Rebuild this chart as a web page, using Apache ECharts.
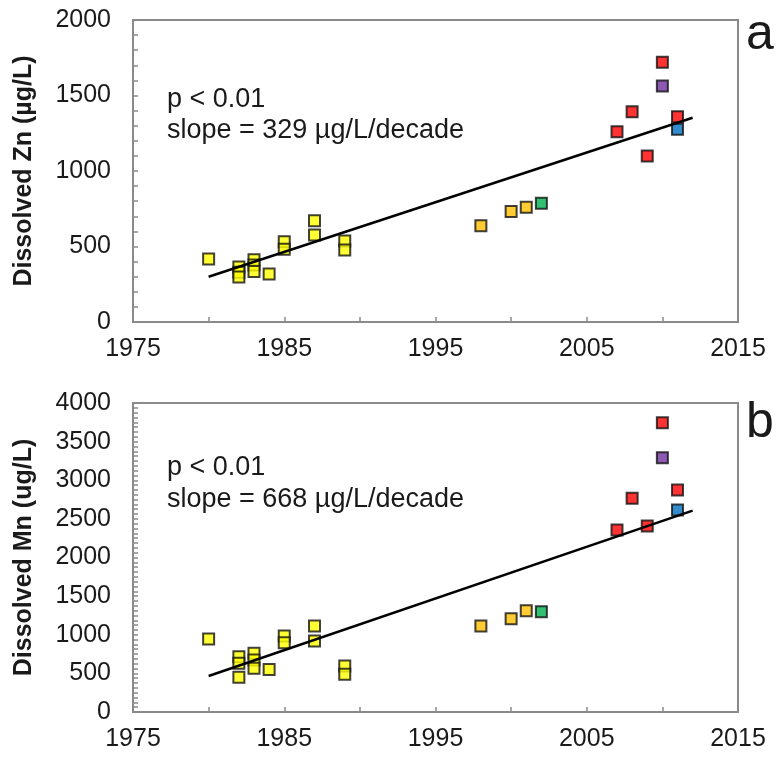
<!DOCTYPE html>
<html>
<head>
<meta charset="utf-8">
<script src="https://cdn.jsdelivr.net/npm/echarts@6/dist/echarts.min.js"></script>
<style>
  html, body { margin: 0; padding: 0; background: #fff; }
  #chart { width: 778px; height: 761px; }
</style>
</head>
<body>
<div id="chart"></div>
<script>
// panel a - dissolved Zn (ug/L), points as [year, value]
const znEarly = [[1980, 417], [1982, 365], [1982, 330], [1982, 298], [1983, 412], [1983, 377], [1983, 335],
  [1984, 318], [1985, 532], [1985, 481], [1987, 671], [1987, 576], [1989, 536], [1989, 477]];
const znMid = [[1998, 638], [2000, 731], [2001, 760]];
const znGreen = [[2002, 786]];
const znRed = [[2007, 1260], [2008, 1392], [2009, 1099], [2010, 1720], [2011, 1360]];
const znPurple = [[2010, 1563]];
const znBlue = [[2011, 1276]];
const znTrend = [[1980, 300], [2012, 1353]];

// panel b - dissolved Mn
const mnEarly = [[1980, 945], [1982, 716], [1982, 630], [1982, 449], [1983, 760], [1983, 673], [1983, 566],
  [1984, 550], [1985, 984], [1985, 897], [1987, 1113], [1987, 919], [1989, 595], [1989, 488]];
const mnMid = [[1998, 1113], [2000, 1208], [2001, 1311]];
const mnGreen = [[2002, 1299]];
const mnRed = [[2007, 2356], [2008, 2766], [2009, 2408], [2010, 3745], [2011, 2874]];
const mnPurple = [[2010, 3292]];
const mnBlue = [[2011, 2615]];
const mnTrend = [[1980, 466], [2012, 2606]];

const colors = { early: '#FFFF00', mid: '#FFC000', green: '#00B050', red: '#FF0000', purple: '#7030A0', blue: '#0070C0' };
const font = 'Liberation Sans, Arial';

const chart = echarts.init(document.getElementById('chart'));

function pts(data, color, idx) {
  return {
    type: 'scatter', xAxisIndex: idx, yAxisIndex: idx, data: data,
    symbol: 'rect', symbolSize: 11,
    itemStyle: { color: color, borderColor: '#111', borderWidth: 2 },
    z: 3
  };
}
function trend(data, idx) {
  return {
    type: 'line', xAxisIndex: idx, yAxisIndex: idx, data: data,
    symbol: 'none', lineStyle: { color: '#000', width: 2.5 }, z: 4
  };
}
function xAx(idx) {
  return {
    type: 'value', gridIndex: idx, min: 1975, max: 2015, interval: 5,
    axisLine: { lineStyle: { color: '#8a8a8a', width: 2 } },
    axisTick: { inside: true, length: 5, lineStyle: { color: '#8a8a8a', width: 1.5 } },
    splitLine: { show: false },
    axisLabel: {
      margin: 15, fontSize: 25, color: '#1a1a1a', fontFamily: font,
      formatter: v => ((v - 1975) % 10 === 0 ? String(v) : '')
    }
  };
}
function yAx(idx, max, name, minorSplit) {
  return {
    type: 'value', gridIndex: idx, min: 0, max: max, interval: 500,
    name: name, nameLocation: 'middle', nameGap: 96,
    nameTextStyle: { fontSize: 25, fontWeight: 'bold', color: '#1a1a1a', fontFamily: font },
    axisLine: { show: true, lineStyle: { color: '#8a8a8a', width: 2 } },
    axisTick: { inside: true, length: 5, lineStyle: { color: '#8a8a8a', width: 1.5 } },
    minorTick: { show: true, splitNumber: minorSplit, length: 5, lineStyle: { color: '#8a8a8a', width: 1.5 } },
    splitLine: { show: false },
    axisLabel: { margin: 22, fontSize: 25, color: '#1a1a1a', fontFamily: font, formatter: v => String(v) }
  };
}

const txt = { fontSize: 27, fill: '#1a1a1a', fontFamily: font };

const option = {
  animation: false,
  backgroundColor: '#fff',
  grid: [
    { left: 133, top: 20, width: 605, height: 302, show: true, borderColor: '#8a8a8a', borderWidth: 2 },
    { left: 133, top: 403, width: 605, height: 309, show: true, borderColor: '#8a8a8a', borderWidth: 2 }
  ],
  xAxis: [xAx(0), xAx(1)],
  yAxis: [yAx(0, 2000, 'Dissolved Zn (µg/L)', 5), yAx(1, 4000, 'Dissolved Mn (ug/L)', 8)],
  series: [
    pts(znEarly, colors.early, 0), pts(znMid, colors.mid, 0), pts(znGreen, colors.green, 0),
    pts(znRed, colors.red, 0), pts(znPurple, colors.purple, 0), pts(znBlue, colors.blue, 0),
    trend(znTrend, 0),
    pts(mnEarly, colors.early, 1), pts(mnMid, colors.mid, 1), pts(mnGreen, colors.green, 1),
    pts(mnRed, colors.red, 1), pts(mnPurple, colors.purple, 1), pts(mnBlue, colors.blue, 1),
    trend(mnTrend, 1)
  ],
  graphic: [
    { type: 'text', left: 167, top: 86, style: Object.assign({ text: 'p < 0.01' }, txt) },
    { type: 'text', left: 167, top: 117, style: Object.assign({ text: 'slope = 329 µg/L/decade' }, txt) },
    { type: 'text', left: 167, top: 454, style: Object.assign({ text: 'p < 0.01' }, txt) },
    { type: 'text', left: 167, top: 486, style: Object.assign({ text: 'slope = 668 µg/L/decade' }, txt) },
    { type: 'text', left: 746, top: 10, style: { text: 'a', fontSize: 50, fill: '#1a1a1a', fontFamily: font } },
    { type: 'text', left: 746, top: 398, style: { text: 'b', fontSize: 50, fill: '#1a1a1a', fontFamily: font } }
  ]
};

chart.setOption(option);
</script>
</body>
</html>
